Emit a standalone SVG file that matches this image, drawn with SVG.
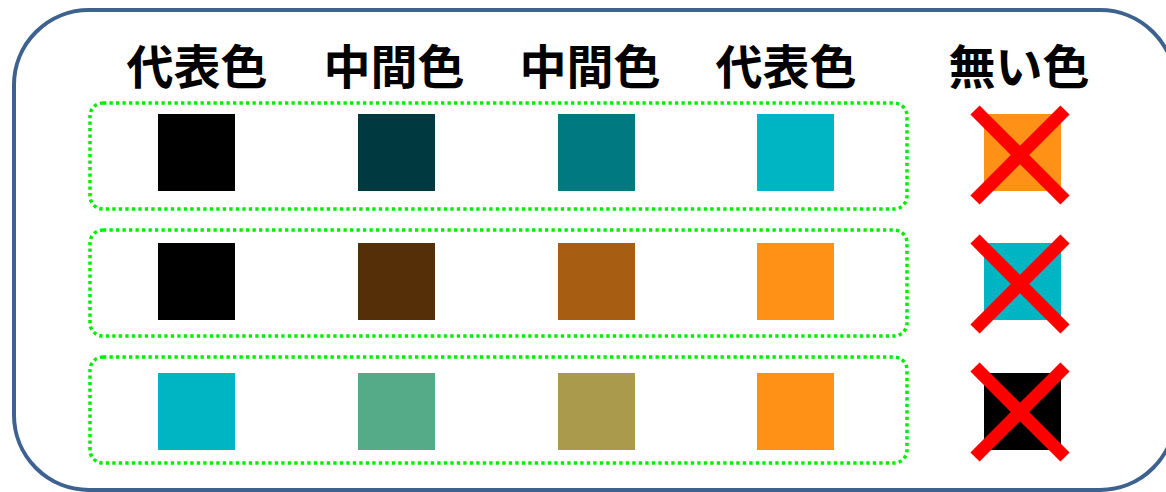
<svg xmlns="http://www.w3.org/2000/svg" width="1166" height="492" viewBox="0 0 1166 492">
<style>
.hdr{font-family:"Noto Sans CJK JP","Noto Sans CJK SC",sans-serif;font-weight:bold;font-size:47px;fill:#000;text-anchor:middle}
.grp{fill:none;stroke:#00ee00;stroke-width:3.5;stroke-dasharray:3.3 3.2}
.x{stroke:#ff0000;stroke-width:13;stroke-linecap:butt}
</style>
<rect x="0" y="0" width="1166" height="492" fill="#ffffff"/>
<rect id="frame" x="14" y="10" width="1161" height="480" rx="75" ry="75" fill="none" stroke="#3e6290" stroke-width="4"/>
<g id="headers">
<text class="hdr" x="197" y="84">代表色</text>
<text class="hdr" x="394" y="84">中間色</text>
<text class="hdr" x="590" y="84">中間色</text>
<text class="hdr" x="786" y="84">代表色</text>
<text class="hdr" x="1019" y="84">無い色</text>
</g>
<g id="row1">
<rect class="grp" x="90" y="103" width="817" height="106" rx="13"/>
<rect x="158" y="114" width="77" height="77" fill="#000000"/>
<rect x="358" y="114" width="77" height="77" fill="#003a40"/>
<rect x="558" y="114" width="77" height="77" fill="#007a80"/>
<rect x="757" y="114" width="77" height="77" fill="#00b5c3"/>
</g>
<g id="row2">
<rect class="grp" x="90" y="230" width="817" height="106" rx="13"/>
<rect x="158" y="243" width="77" height="77" fill="#000000"/>
<rect x="358" y="243" width="77" height="77" fill="#552f07"/>
<rect x="558" y="243" width="77" height="77" fill="#a85e12"/>
<rect x="757" y="243" width="77" height="77" fill="#ff9216"/>
</g>
<g id="row3">
<rect class="grp" x="90" y="357" width="817" height="106" rx="13"/>
<rect x="158" y="373" width="77" height="77" fill="#00b5c3"/>
<rect x="358" y="373" width="77" height="77" fill="#55aa88"/>
<rect x="558" y="373" width="77" height="77" fill="#aa9b4c"/>
<rect x="757" y="373" width="77" height="77" fill="#ff9216"/>
</g>
<g id="none1">
<rect x="984" y="114" width="77" height="77" fill="#ff9216"/>
<line class="x" x1="975" y1="110" x2="1065" y2="200"/>
<line class="x" x1="1065" y1="110" x2="975" y2="200"/>
</g>
<g id="none2">
<rect x="984" y="243" width="77" height="77" fill="#00b5c3"/>
<line class="x" x1="975" y1="239" x2="1065" y2="329"/>
<line class="x" x1="1065" y1="239" x2="975" y2="329"/>
</g>
<g id="none3">
<rect x="984" y="373" width="77" height="77" fill="#000000"/>
<line class="x" x1="975" y1="367" x2="1065" y2="457"/>
<line class="x" x1="1065" y1="367" x2="975" y2="457"/>
</g>
</svg>
